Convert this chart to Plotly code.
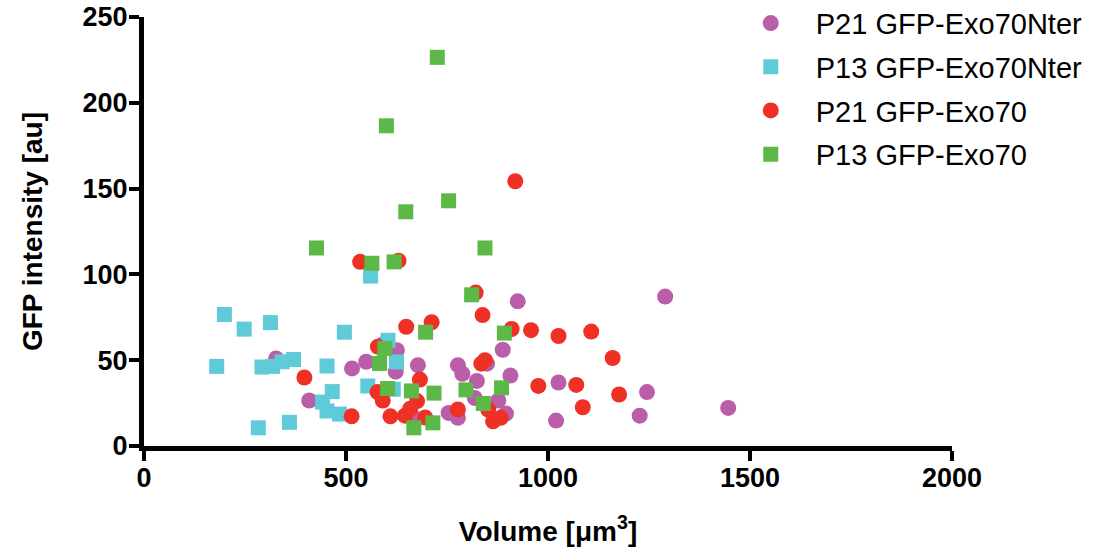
import plotly.graph_objects as go

# P21 GFP-Exo70Nter (purple circles)
p21_nter_vol = [327, 515, 550, 626, 623, 678, 409, 671, 591, 925, 1290, 888, 777, 788, 849, 907,
                824, 1026, 1245, 819, 877, 754, 777, 896, 1020, 1227, 1446]
p21_nter_int = [51.0, 45.2, 49.1, 55.8, 43.3, 47.1, 26.5, 16.0, 59.2, 84.3, 87.1, 56.1, 47.1, 42.1, 48.0, 41.1,
                37.9, 37.0, 31.4, 27.9, 26.5, 19.3, 16.4, 18.9, 14.8, 17.7, 22.2]

# P13 GFP-Exo70Nter (cyan squares)
p13_nter_vol = [199, 248, 313, 496, 561, 180, 292, 318, 342, 370, 453, 604, 625, 617, 554, 466,
                442, 453, 484, 283, 360]
p13_nter_int = [76.6, 68.1, 71.9, 66.3, 99.0, 46.4, 46.0, 46.4, 49.1, 50.4, 46.6, 61.6, 49.0, 33.1, 35.0, 31.7,
                25.6, 20.4, 18.6, 10.6, 13.8]

# P21 GFP-Exo70 (red circles)
p21_exo_vol = [535, 630, 649, 712, 579, 397, 683, 578, 591, 676, 514, 610, 646, 659, 696, 838, 821,
               910, 958, 1026, 1107, 1160, 835, 844, 976, 1070, 1176, 1086, 777, 852, 864, 883, 919]
p21_exo_int = [107.3, 108.0, 69.5, 72.1, 57.9, 39.9, 38.7, 31.4, 26.5, 26.2, 17.3, 17.3, 17.7, 21.7, 16.6, 76.3, 89.4,
               68.2, 67.5, 64.1, 66.7, 51.3, 48.0, 50.0, 35.0, 35.6, 30.0, 22.6, 21.3, 21.2, 14.4, 16.4, 154.3]

# P13 GFP-Exo70 (green squares)
p13_exo_vol = [726, 600, 648, 754, 427, 844, 564, 619, 811, 697, 892, 596, 583, 603, 662, 718, 797,
               885, 840, 668, 715]
p13_exo_int = [226.5, 186.6, 136.5, 142.9, 115.4, 115.4, 106.5, 107.3, 88.1, 66.3, 65.8, 56.8, 48.1, 33.5, 32.1, 30.8, 32.7,
               33.9, 24.8, 10.6, 13.5]

series_names = ["P21 GFP-Exo70Nter", "P13 GFP-Exo70Nter", "P21 GFP-Exo70", "P13 GFP-Exo70"]
x_ticks = [0, 500, 1000, 1500, 2000]
y_ticks = [0, 50, 100, 150, 200, 250]

FONT = "Liberation Sans, Arial, sans-serif"

series = [
    (series_names[0], p21_nter_vol, p21_nter_int, "circle", "#BA5EA9", 16),
    (series_names[1], p13_nter_vol, p13_nter_int, "square", "#5FCAD8", 15),
    (series_names[2], p21_exo_vol, p21_exo_int, "circle", "#EE3124", 16),
    (series_names[3], p13_exo_vol, p13_exo_int, "square", "#5CB947", 15),
]

fig = go.Figure()
for i, (name, xs, ys, sym, col, sz) in enumerate(series):
    fig.add_trace(go.Scatter(
        x=xs, y=ys, mode="markers", name=name, legendgroup=f"g{i}",
        marker=dict(symbol=sym, color=col, size=sz, line=dict(width=0)),
    ))

axis_common = dict(
    showline=True, linecolor="black", linewidth=5,
    ticks="outside", ticklen=10, tickwidth=4, tickcolor="black",
    showgrid=False, zeroline=False, automargin=False,
    ticklabeloverflow="allow",
    tickfont=dict(family=FONT, size=27, color="black", weight="bold"),
)

fig.update_xaxes(range=[0, 2000], tickvals=x_ticks, ticktext=[str(v) for v in x_ticks],
                 ticklabelstandoff=-6,
                 title=dict(text="Volume [μm<sup>3</sup>]", font=dict(family=FONT, size=28, color="black", weight="bold"), standoff=30),
                 **axis_common)
fig.update_yaxes(range=[0, 250], tickvals=y_ticks, ticktext=[str(v) for v in y_ticks],
                 ticklabelstandoff=-4,
                 title=dict(text="GFP intensity [au]", font=dict(family=FONT, size=28, color="black", weight="bold"), standoff=33),
                 **axis_common)

fig.update_layout(
    width=1099, height=558,
    margin=dict(l=144, r=147, t=17, b=112, autoexpand=False),
    plot_bgcolor="white", paper_bgcolor="white",
    legend=dict(x=0.72, y=1.045, xanchor="left", yanchor="top",
                font=dict(family=FONT, size=29, color="black"),
                tracegroupgap=3, bgcolor="rgba(0,0,0,0)", itemwidth=80),
)

# remove the default page body margin so the figure fills the window exactly
fig.write_html("out.html", config={"displayModeBar": False},
               post_script="document.body.style.margin='0';")
